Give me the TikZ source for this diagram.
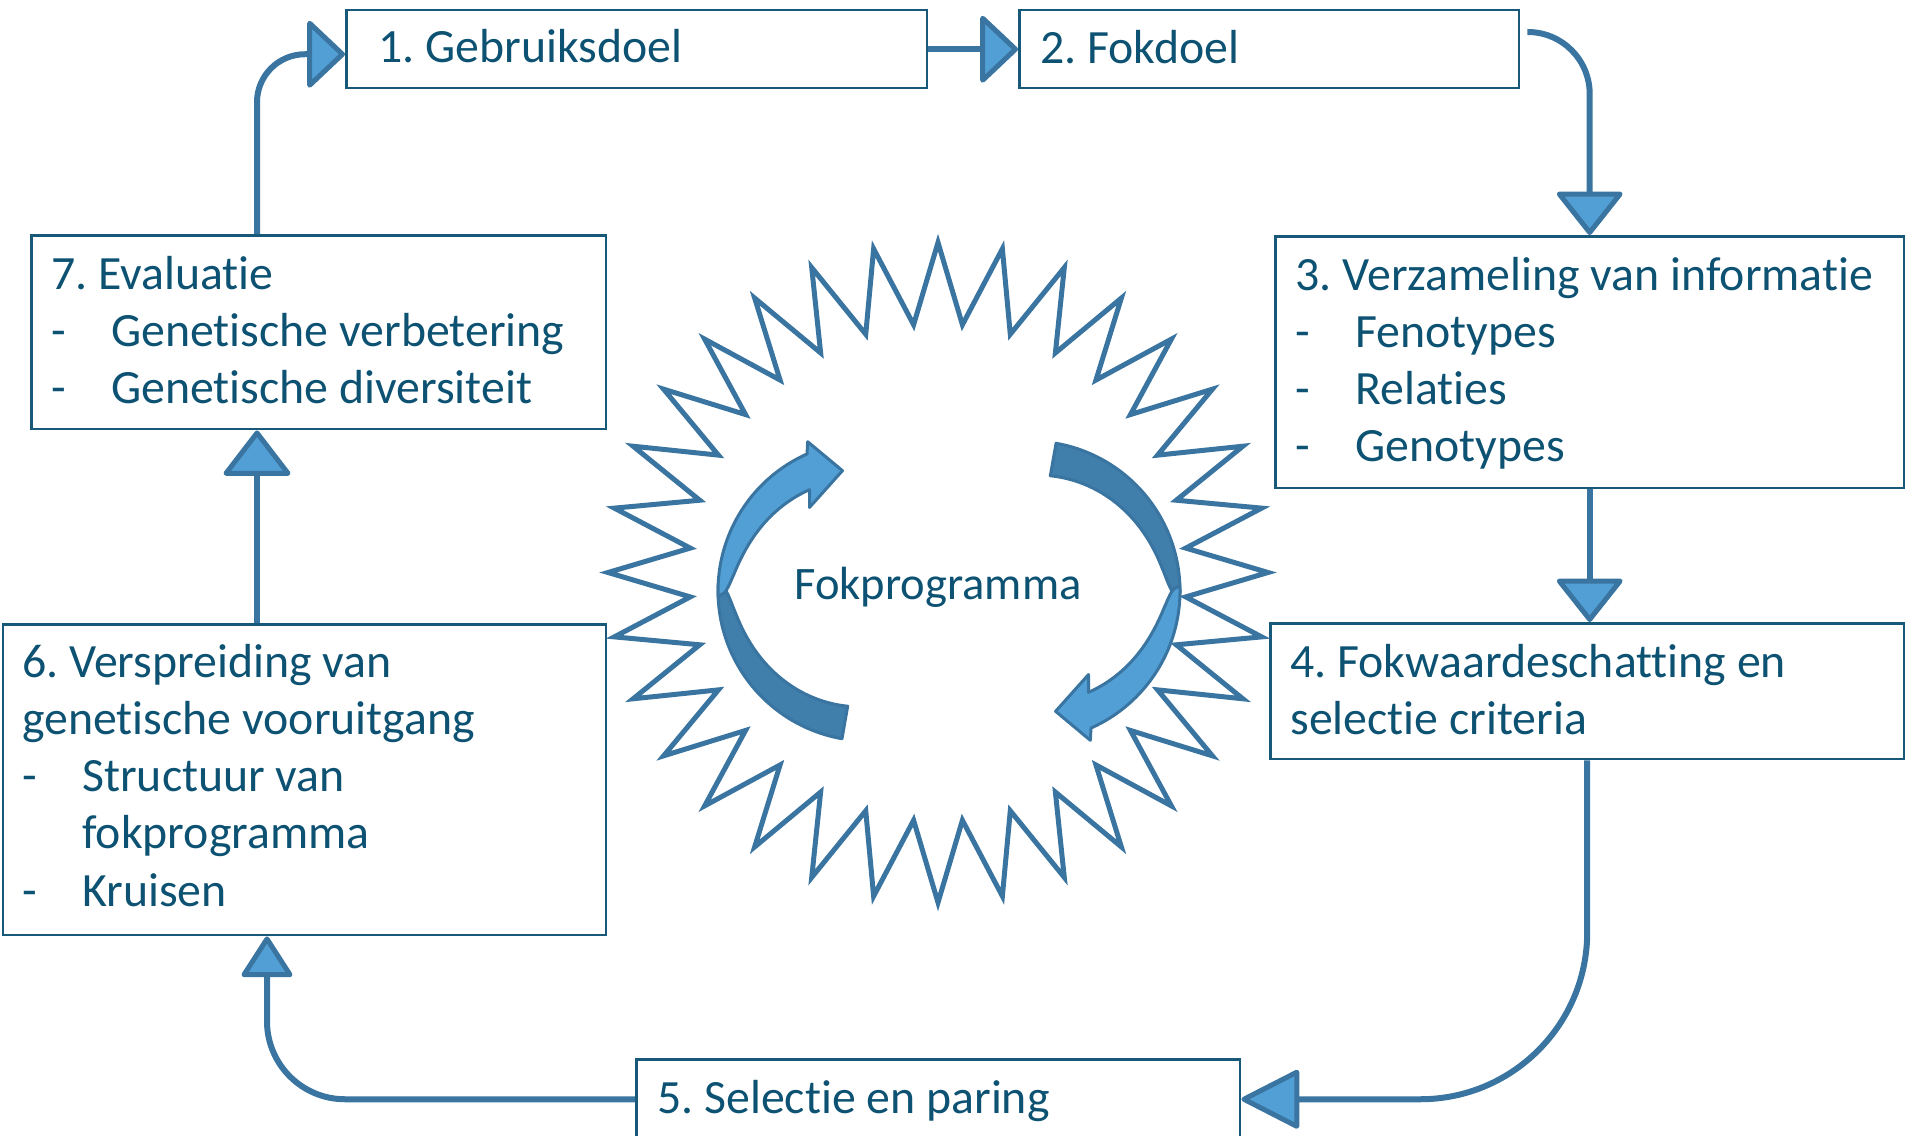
\documentclass[tikz,border=0pt]{standalone}
\usepackage{fontspec}
\setmainfont{Carlito}[Ligatures=NoCommon]
\usetikzlibrary{arrows.meta,calc}
\definecolor{txtc}{RGB}{13,82,114}
\definecolor{boxc}{RGB}{24,88,120}
\definecolor{linec}{RGB}{58,116,160}
\definecolor{lightf}{RGB}{82,159,214}
\definecolor{darkf}{RGB}{64,126,172}
\frenchspacing
\newcommand{\itm}[1]{\makebox[1.2cm][l]{-}#1}
\newcommand{\fokcircarrow}{%
  \filldraw[darkarr] plot[domain=100:182,samples=50] (\x:150)
    -- plot[domain=182:100,samples=50] (\x:{150-33*pow(abs((182-\x)/82)+0.0001,0.38)}) -- cycle;
  \filldraw[lightarr] plot[domain=178:246,samples=50] (\x:150)
    -- (248:161) -- (258:123) -- (235:102) -- (240:117)
    -- plot[domain=240:178,samples=50] (\x:{150-33*pow(abs((\x-178)/62)+0.0001,0.42)}) -- cycle;
}
\begin{document}
\begin{tikzpicture}[x=0.02cm,y=-0.02cm,
  box/.style={draw=boxc, line width=0.05cm, rectangle, inner sep=0pt, anchor=north west},
  txt/.style={text=txtc, inner sep=0pt, anchor=base west, font=\fontsize{27.2pt}{32.6pt}\selectfont},
  conn/.style={draw=linec, line width=0.12cm},
  tipA/.style={-{Triangle[length=0.78cm,width=1.45cm,fill=lightf,round,line width=0.1cm]}},
  tipB/.style={-{Triangle[length=0.9cm,width=1.4cm,fill=lightf,round,line width=0.1cm]}},
  tipC/.style={-{Triangle[length=1.22cm,width=1.22cm,fill=lightf,round,line width=0.1cm]}},
  tipD/.style={-{Triangle[length=0.86cm,width=1.08cm,fill=lightf,round,line width=0.1cm]}},
  tipE/.style={-{Triangle[length=0.94cm,width=1.42cm,fill=lightf,round,line width=0.1cm]}},
  starl/.style={draw=linec, line width=0.1cm},
  darkarr/.style={fill=darkf, draw=linec, line width=0.06cm, line join=round},
  lightarr/.style={fill=lightf, draw=linec, line width=0.06cm, line join=round}
]
\useasboundingbox (0,0) rectangle (1905,1135);

% boxes
\node[box, minimum width=11.62cm, minimum height=1.56cm] (b1) at (345,9) {};
\node[box, minimum width=10.0cm, minimum height=1.56cm] (b2) at (1018,9) {};
\node[box, minimum width=12.58cm, minimum height=5.04cm] (b3) at (1274,235) {};
\node[box, minimum width=12.68cm, minimum height=2.72cm] (b4) at (1269,622) {};
\node[box, minimum width=12.08cm, minimum height=1.6cm] (b5) at (635,1058) {};
\node[box, minimum width=12.06cm, minimum height=6.22cm] (b6) at (2,623) {};
\node[box, minimum width=11.5cm, minimum height=3.88cm] (b7) at (30,234) {};

% texts
\node[txt] (t1) at (378,63) {1. Gebruiksdoel};
\node[txt] (t2) at (1040,64) {2. Fokdoel};
\node[txt] (t3) at (1295,290) {\begin{tabular}[t]{@{}l@{}}3. Verzameling van informatie\\ \itm{Fenotypes}\\ \itm{Relaties}\\ \itm{Genotypes}\end{tabular}};
\node[txt] (t4) at (1290,677) {\begin{tabular}[t]{@{}l@{}}4. Fokwaardeschatting en\\ selectie criteria\end{tabular}};
\node[txt] (t5) at (657,1113) {5. Selectie en paring};
\node[txt] (t6) at (22,677) {\begin{tabular}[t]{@{}l@{}}6. Verspreiding van\\ genetische vooruitgang\\ \itm{Structuur van}\\ \hspace*{1.2cm}fokprogramma\\ \itm{Kruisen}\end{tabular}};
\node[txt] (t7) at (51,289) {\begin{tabular}[t]{@{}l@{}}7. Evaluatie\\ \itm{Genetische verbetering}\\ \itm{Genetische diversiteit}\end{tabular}};

% connectors
\draw[conn, tipA, rounded corners=0.96cm] ($(b7.north west)+(227,0)$) |- ([yshift=-0.1cm]b1.west);
\draw[conn, tipA] (b1.east) -- (b2.west);
\draw[conn, tipB, rounded corners=1.24cm] ($(b2.north east)+(7,23)$) -| (b3.north);
\draw[conn, tipB] (b3.south) -- (b3.south |- b4.north);
\draw[conn, tipC, rounded corners=3.34cm] (b4.south) |- (b5.east);
\draw[conn, tipD, rounded corners=1.56cm] (b5.west) -| ($(b6.south west)+(265,0)$);
\draw[conn, tipE] ($(b6.north west)+(255,0)$) -- ($(b7.south west)+(227,0)$);

% star
\begin{scope}[shift={(938,572.5)}]
  \draw[starl] plot[samples at={0,...,63}] ({90+5.625*\x}:{330-81*mod(\x,2)}) -- cycle;
\end{scope}

% circular arrows
\begin{scope}[shift={(868,591)}]
  \fokcircarrow
\end{scope}
\begin{scope}[shift={(1030,591)}, rotate=180]
  \fokcircarrow
\end{scope}

\node[txt, anchor=base, font=\fontsize{26.5pt}{32pt}\selectfont] (fp) at (938,599) {Fokprogramma};
\end{tikzpicture}
\end{document}
